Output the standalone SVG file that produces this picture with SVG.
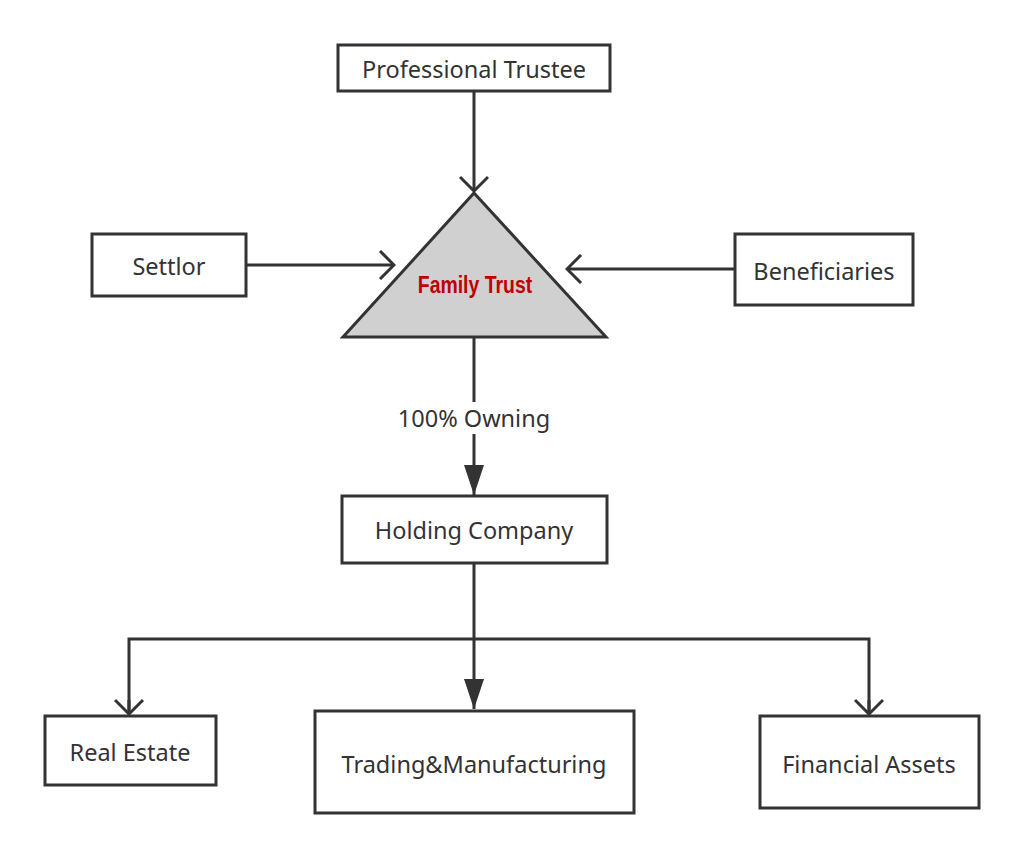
<svg xmlns="http://www.w3.org/2000/svg" width="1024" height="858" viewBox="0 0 1024 858">
<style>
.box{fill:#fff;stroke:#333;stroke-width:3}
.lbl{font-family:"Noto Sans","Open Sans",sans-serif;font-size:23.5px;fill:#333;text-anchor:middle;dominant-baseline:central}
.ln{fill:none;stroke:#333;stroke-width:3}
</style>
<defs>
<marker id="open" viewBox="0 0 20 30" refX="18" refY="15" markerWidth="20" markerHeight="30" markerUnits="userSpaceOnUse" orient="auto">
<path d="M4,1 L18,15 L4,29" fill="none" stroke="#333" stroke-width="3"/>
</marker>
<marker id="fill" viewBox="0 0 30 20" refX="30" refY="10" markerWidth="30" markerHeight="20" markerUnits="userSpaceOnUse" orient="auto">
<path d="M0,0 L30,10 L0,20 Z" fill="#333"/>
</marker>
</defs>
<g id="connectors">
<line class="ln" x1="474" y1="91" x2="474" y2="191" marker-end="url(#open)"/>
<line class="ln" x1="246" y1="265" x2="394" y2="265" marker-end="url(#open)"/>
<line class="ln" x1="735" y1="269" x2="567" y2="269" marker-end="url(#open)"/>
<line class="ln" x1="474" y1="337" x2="474" y2="495" marker-end="url(#fill)"/>
<rect x="396" y="402" width="156" height="32" fill="#fff"/>
<text class="lbl" x="474" y="418">100% Owning</text>
<line class="ln" x1="474" y1="563" x2="474" y2="709" marker-end="url(#fill)"/>
<polyline class="ln" points="129,714 129,639 869,639 869,714"/>
<line class="ln" x1="129" y1="700" x2="129" y2="714" marker-end="url(#open)"/>
<line class="ln" x1="869" y1="700" x2="869" y2="714" marker-end="url(#open)"/>
</g>
<g id="professional-trustee"><rect class="box" x="338" y="45" width="272" height="46"/><text class="lbl" x="474" y="69">Professional Trustee</text></g>
<g id="settlor"><rect class="box" x="92" y="234" width="154" height="62"/><text class="lbl" x="169" y="266">Settlor</text></g>
<g id="beneficiaries"><rect class="box" x="735" y="234" width="178" height="71"/><text class="lbl" x="824" y="271">Beneficiaries</text></g>
<g id="family-trust"><polygon points="474,193 606,337 343,337" fill="#d0d0d0" stroke="#333" stroke-width="3"/><text transform="translate(475,285) scale(0.81,1)" x="0" y="0" font-family="'Liberation Sans',sans-serif" font-weight="bold" font-size="24" fill="#c00000" text-anchor="middle" dominant-baseline="central">Family Trust</text></g>
<g id="holding-company"><rect class="box" x="342" y="496" width="265" height="67"/><text class="lbl" x="474" y="530">Holding Company</text></g>
<g id="real-estate"><rect class="box" x="45" y="716" width="171" height="69"/><text class="lbl" x="130" y="752">Real Estate</text></g>
<g id="trading"><rect class="box" x="315" y="711" width="319" height="102"/><text class="lbl" x="474" y="764">Trading&amp;Manufacturing</text></g>
<g id="financial-assets"><rect class="box" x="760" y="716" width="219" height="92"/><text class="lbl" x="869" y="764">Financial Assets</text></g>
</svg>
